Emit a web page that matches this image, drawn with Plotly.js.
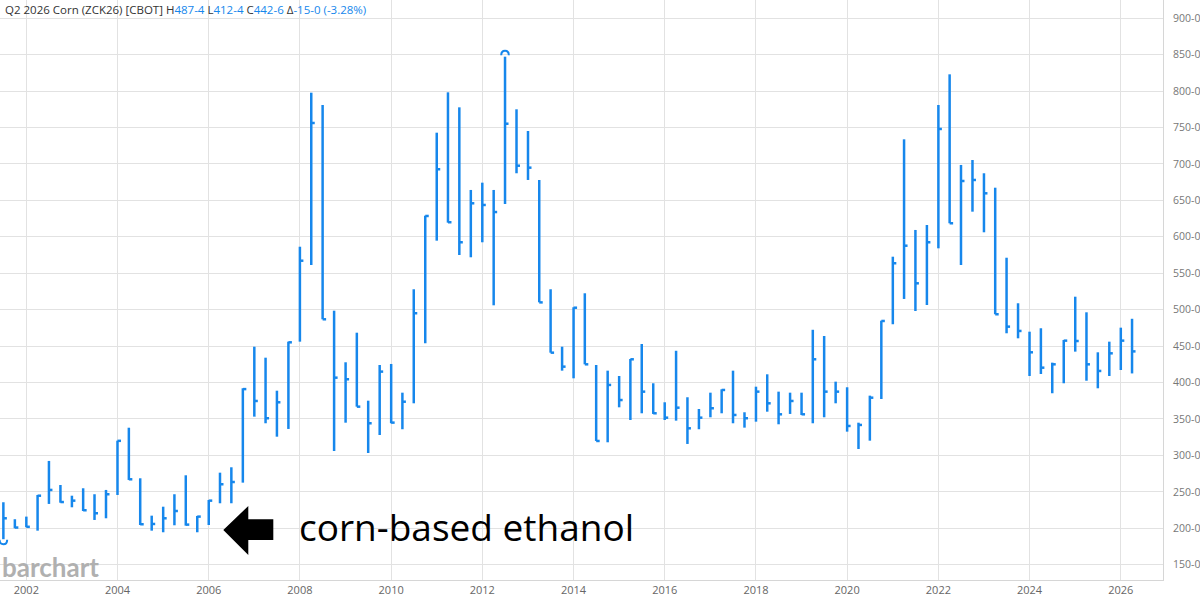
<!DOCTYPE html>
<html><head><meta charset="utf-8">
<script src="https://cdn.plot.ly/plotly-3.0.1.min.js"></script>
<style>html,body{margin:0;padding:0;background:#fff}#chart{width:1200px;height:601px}</style>
</head><body><div id="chart"></div>
<script>
const quarters = [
"2001-07-01","2001-10-01",
"2002-01-01","2002-04-01","2002-07-01","2002-10-01",
"2003-01-01","2003-04-01","2003-07-01","2003-10-01",
"2004-01-01","2004-04-01","2004-07-01","2004-10-01",
"2005-01-01","2005-04-01","2005-07-01","2005-10-01",
"2006-01-01","2006-04-01","2006-07-01","2006-10-01",
"2007-01-01","2007-04-01","2007-07-01","2007-10-01",
"2008-01-01","2008-04-01","2008-07-01","2008-10-01",
"2009-01-01","2009-04-01","2009-07-01","2009-10-01",
"2010-01-01","2010-04-01","2010-07-01","2010-10-01",
"2011-01-01","2011-04-01","2011-07-01","2011-10-01",
"2012-01-01","2012-04-01","2012-07-01","2012-10-01",
"2013-01-01","2013-04-01","2013-07-01","2013-10-01",
"2014-01-01","2014-04-01","2014-07-01","2014-10-01",
"2015-01-01","2015-04-01","2015-07-01","2015-10-01",
"2016-01-01","2016-04-01","2016-07-01","2016-10-01",
"2017-01-01","2017-04-01","2017-07-01","2017-10-01",
"2018-01-01","2018-04-01","2018-07-01","2018-10-01",
"2019-01-01","2019-04-01","2019-07-01","2019-10-01",
"2020-01-01","2020-04-01","2020-07-01","2020-10-01",
"2021-01-01","2021-04-01","2021-07-01","2021-10-01",
"2022-01-01","2022-04-01","2022-07-01","2022-10-01",
"2023-01-01","2023-04-01","2023-07-01","2023-10-01",
"2024-01-01","2024-04-01","2024-07-01","2024-10-01",
"2025-01-01","2025-04-01","2025-07-01","2025-10-01",
"2026-01-01","2026-04-01"];

const highs = [
235.7,212.4,216,245.7,292.4,259.4,244.7,254.9,246.7,252.6,
320.2,338,268.6,217.3,229.6,246.7,272.7,216.9,238.8,276.3,
283.7,392.1,449.2,434.1,388.8,456.1,586.4,797.8,780.9,498.6,
427.8,468.4,375.1,424.1,425.5,386.1,528,629,742.9,798.3,
777.7,664.3,674.3,664.3,847.2,775,745.2,678,528,449.2,
503.3,522.5,424.1,416.3,409,432.3,452.9,399,372.9,443.6,
379.8,363.7,386.1,390.7,416.3,359.2,394.3,411.3,387.5,386.1,
386.1,472.4,463.9,401.2,393.5,344.9,382,484.9,572.7,733.8,
609.4,616.2,780.9,823,698.6,705.4,687.2,667.4,571.3,508.8,
469.8,474.5,427.3,458.4,517.8,496.4,441.5,456.1,475.3,487.5];

const lows = [
185,200,201.4,196.7,233.4,235.1,228.8,223.7,211.4,213.7,
245.7,266.3,204.5,196.7,194.5,204.1,203.6,194.5,204.5,234.3,
234.3,262.6,353.2,344.1,325.7,336.3,456.1,561.3,486.8,306,
344.9,366.9,303.3,328,344.1,335.9,371.5,453.9,594.7,619.4,
575,571.9,592.5,506,645,687.2,678,510.1,441,416.3,
405.8,425,319.8,318,366,348.6,357.8,356.9,348.6,347.7,
315.7,335.9,352.3,357.8,344.1,338.1,346.3,360,342.7,356.9,
355.5,344.1,352.3,371.5,332.6,308.8,320.2,377.4,480,514.7,
498.2,506.4,584.2,618.6,561.3,634.5,606.2,493.7,467.6,460.7,
409,411.7,385.3,399,442.4,402.5,392.1,409,417.2,412.5];

const closes = [
213.7,201,202,244.7,252.6,236,237.9,224.7,220.6,246.7,
320,267.2,205.5,205.9,213.7,223.7,205,216,237.9,260.4,
263.5,391,374.7,351,372.9,455.2,567.2,756.2,486.8,406.7,
404.5,366.9,344.1,415,345,373.7,495.1,628.6,692.7,620,
592.5,646,643.7,634,755.2,697.6,694.9,510,441,421.8,
502.7,425,319.8,396.7,376,431.9,387.5,357.8,351.8,365.5,
337.2,351.8,364.7,389.8,355.5,351,387.5,371.5,356.4,374.7,
356.4,431.9,387.5,387.5,340.4,341.8,379.2,484.5,563.7,587.8,
536.2,592.5,748,618.6,676.6,678,659.7,493.7,476.7,470.8,
441.5,420.4,425,457.5,457,425,415.9,440.1,457.5,442.75];

const yTickVals = [150,200,250,300,350,400,450,500,550,600,650,700,750,800,850,900];
const yTickText = ["150-0","200-0","250-0","300-0","350-0","400-0","450-0","500-0","550-0","600-0","650-0","700-0","750-0","800-0","850-0","900-0"];

const BLUE = "#1687ec";
const TICK_DAYS = 28;
function addDays(s, d){ const t = new Date(s + "T00:00:00Z"); t.setUTCDate(t.getUTCDate() + d); return t.toISOString().slice(0,10); }

const xs = [], ys = [];
for (let i = 0; i < quarters.length; i++) {
  xs.push(quarters[i], quarters[i], null, quarters[i], addDays(quarters[i], TICK_DAYS), null);
  ys.push(lows[i], highs[i], null, closes[i], closes[i], null);
}
let iHi = 0, iLo = 0;
for (let i = 1; i < highs.length; i++) { if (highs[i] > highs[iHi]) iHi = i; if (lows[i] < lows[iLo]) iLo = i; }

const traces = [
  {type:'scatter', mode:'lines', x:xs, y:ys, connectgaps:false, line:{color:BLUE, width:2.5}, hoverinfo:'skip', showlegend:false}
];

const last = quarters.length - 1;
function fmt(v){ const w = Math.floor(v); const e = Math.round((v - w) * 8); return w + "-" + e; }
const DARK = "#333";
const titleText = `<span style="color:${DARK}">Q2 2026 Corn (ZCK26) [CBOT] H</span><span style="color:${BLUE}">${fmt(highs[last])}</span>` +
  `<span style="color:${DARK}"> L</span><span style="color:${BLUE}">${fmt(lows[last])}</span>` +
  `<span style="color:${DARK}"> C</span><span style="color:${BLUE}">${fmt(closes[last])}</span>` +
  `<span style="color:${DARK}"> Δ</span><span style="color:${BLUE}">-15-0 (-3.28%)</span>`;

const layout = {
  width:1200, height:601,
  margin:{l:0, r:37, t:0, b:21, pad:0},
  paper_bgcolor:'#fff', plot_bgcolor:'#fff',
  font:{family:'"Open Sans", sans-serif', color:'#666'},
  showlegend:false,
  xaxis:{type:'date', range:['2001-06-04','2026-12-05'], tick0:'2002-01-01', dtick:'M24', tickformat:'%Y',
    showgrid:true, gridcolor:'#e2e2e2', gridwidth:1, showline:true, linecolor:'#d6d6d6', ticks:'', zeroline:false,
    tickfont:{size:11, color:'#666'}, fixedrange:true},
  yaxis:{side:'right', range:[129,925], tickvals:yTickVals, ticktext:yTickText, showgrid:true, gridcolor:'#e2e2e2',
    showline:true, linecolor:'#d6d6d6', ticks:'', zeroline:false, ticklabelstandoff:7,
    tickfont:{size:10.5, color:'#777'}, fixedrange:true},
  shapes:[
    {type:'path', xref:'paper', yref:'paper',
     path:'M0.1920,0.0862 L0.2135,0.1276 L0.2135,0.1047 L0.2350,0.1047 L0.2350,0.0690 L0.2135,0.0690 L0.2135,0.0431 Z',
     fillcolor:'#000', line:{width:0}},
    {type:'path', xref:'x', yref:'y', xsizemode:'pixel', ysizemode:'pixel', xanchor:quarters[iHi], yanchor:highs[iHi],
     path:'M-3.8,1.5 C-3.8,7.5 3.8,7.5 3.8,1.5', line:{color:BLUE, width:2}, fillcolor:'rgba(0,0,0,0)'},
    {type:'path', xref:'x', yref:'y', xsizemode:'pixel', ysizemode:'pixel', xanchor:quarters[iLo], yanchor:lows[iLo],
     path:'M-3.8,-0.5 C-3.8,-6.5 3.8,-6.5 3.8,-0.5', line:{color:BLUE, width:2}, fillcolor:'rgba(0,0,0,0)'}
  ],
  annotations:[
    {xref:'paper', yref:'paper', x:0.003, y:1.0, xanchor:'left', yanchor:'top', showarrow:false, text:titleText,
     font:{size:11.5, family:'"Open Sans", sans-serif'}},
    {xref:'paper', yref:'paper', x:0.2555, y:0.093, xanchor:'left', yanchor:'middle', showarrow:false,
     text:'corn-based ethanol', font:{size:37, color:'#000', family:'"Open Sans", sans-serif'}},
    {xref:'paper', yref:'paper', x:0.0, y:-0.008, xanchor:'left', yanchor:'bottom', showarrow:false,
     text:'<b>barchart</b>', font:{size:26, color:'#b0b0b0', family:'Lato, sans-serif'}}
  ]
};
Plotly.newPlot('chart', traces, layout, {displayModeBar:false, staticPlot:true});
</script></body></html>
